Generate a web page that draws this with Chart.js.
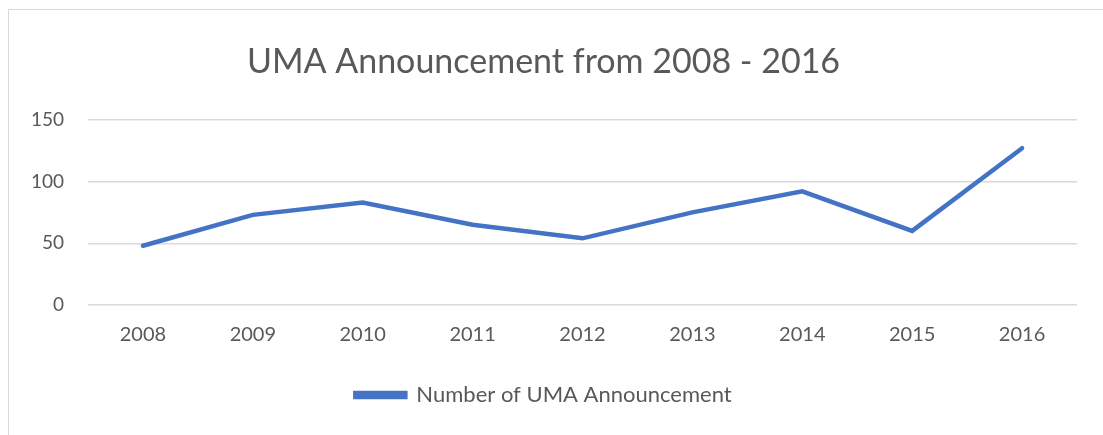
<!DOCTYPE html>
<html>
<head>
<meta charset="utf-8">
<script src="https://cdn.jsdelivr.net/npm/chart.js@4/dist/chart.umd.min.js"></script>
<style>
  html, body { margin: 0; padding: 0; background: #ffffff; overflow: hidden; }
  #frame {
    position: absolute; left: 8px; top: 9px; width: 1110px; height: 440px;
    border: 1px solid #d9d9d9; box-sizing: border-box; background: #fff;
  }
  #wrap { position: absolute; left: 1px; top: 1px; width: 1094px; height: 425px; }
</style>
</head>
<body>
<div id="frame"><div id="wrap"><canvas id="umaChart"></canvas></div></div>
<script>
// UMA announcements per year
const years = ['2008', '2009', '2010', '2011', '2012', '2013', '2014', '2015', '2016'];
const announcements = [48, 73, 83, 65, 54, 75, 92, 60, 127];
const yTicks = [0, 50, 100, 150];

const textColor = '#595959';
const fontFamily = 'Lato, "Open Sans", sans-serif';

const ctx = document.getElementById('umaChart');

new Chart(ctx, {
    type: 'line',
    data: {
        labels: years,
        datasets: [{
            label: 'Number of UMA Announcement',
            data: announcements,
            borderColor: '#4472C4',
            backgroundColor: '#4472C4',
            borderWidth: 4.5,
            borderCapStyle: 'round',
            borderJoinStyle: 'miter',
            pointRadius: 0,
            tension: 0
        }]
    },
    options: {
        responsive: true,
        maintainAspectRatio: false,
        animation: false,
        layout: {
            padding: { left: 0, right: 27, top: 0, bottom: 20 }
        },
        scales: {
            x: {
                offset: true,
                grid: { display: false },
                border: { display: false },
                ticks: {
                    color: textColor,
                    font: { family: fontFamily, size: 20 },
                    padding: 10
                }
            },
            y: {
                min: 0,
                max: 150,
                afterBuildTicks(axis) {
                    axis.ticks = yTicks.map(v => ({ value: v }));
                },
                afterFit(axis) {
                    axis.width = 78;
                },
                grid: { color: '#d9d9d9', lineWidth: 1.5, drawTicks: false },
                border: { display: false },
                ticks: {
                    color: textColor,
                    font: { family: fontFamily, size: 19 },
                    padding: 24
                }
            }
        },
        plugins: {
            title: {
                display: true,
                text: 'UMA Announcement from 2008 - 2016',
                color: textColor,
                font: { family: fontFamily, size: 34, weight: 'normal' },
                padding: { top: 31, bottom: 37 }
            },
            legend: {
                position: 'bottom',
                labels: {
                    color: textColor,
                    font: { family: fontFamily, size: 22 },
                    boxWidth: 50,
                    boxHeight: 4,
                    padding: 27
                }
            },
            tooltip: { enabled: false }
        }
    }
});
</script>
</body>
</html>
